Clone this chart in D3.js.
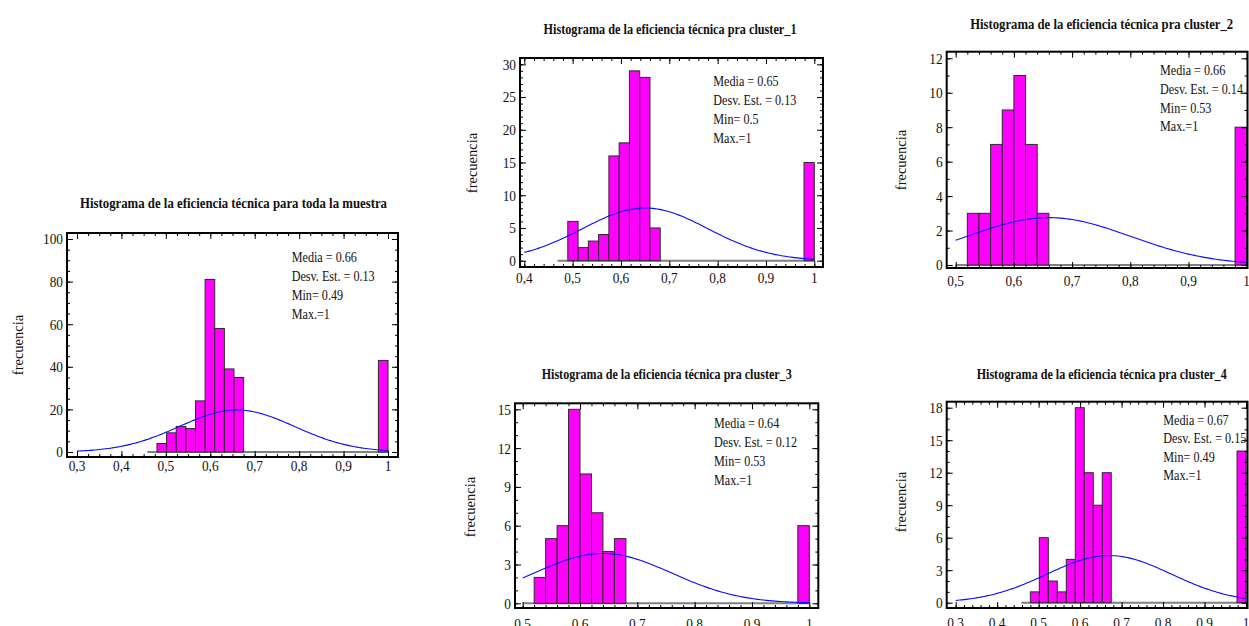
<!DOCTYPE html>
<html>
<head>
<meta charset="utf-8">
<script src="https://cdn.jsdelivr.net/npm/d3@7"></script>
<style>
  body { margin: 0; background: #fff; }
  svg { display: block; }
  text { font-family: "Liberation Serif", "Times New Roman", serif; fill: #111; }
</style>
</head>
<body>
<svg id="chart" width="1249" height="626"></svg>
<script>
// histogramas de eficiencia tecnica - muestra total y 4 clusters

const titles = [
  'Histograma de la eficiencia técnica para toda la muestra',
  'Histograma de la eficiencia técnica pra cluster_1',
  'Histograma de la eficiencia técnica pra cluster_2',
  'Histograma de la eficiencia técnica pra cluster_3',
  'Histograma de la eficiencia técnica pra cluster_4'
];

// frecuencias por clase (24 clases hasta 1)
const countsAll = [4, 9, 12, 11, 24, 81, 58, 39, 35, 0, 0, 0, 0, 0, 0, 0, 0, 0, 0, 0, 0, 0, 0, 43];
const countsC1  = [6, 2, 3, 4, 16, 18, 29, 28, 5, 0, 0, 0, 0, 0, 0, 0, 0, 0, 0, 0, 0, 0, 0, 15];
const countsC2  = [3, 3, 7, 9, 11, 7, 3, 0, 0, 0, 0, 0, 0, 0, 0, 0, 0, 0, 0, 0, 0, 0, 0, 8];
const countsC3  = [2, 5, 6, 15, 10, 7, 4, 5, 0, 0, 0, 0, 0, 0, 0, 0, 0, 0, 0, 0, 0, 0, 0, 6];
const countsC4  = [1, 6, 2, 1, 4, 18, 12, 9, 12, 0, 0, 0, 0, 0, 0, 0, 0, 0, 0, 0, 0, 0, 0, 14];

const binStarts = [0.48, 0.49, 0.52, 0.52, 0.48];
const binWidths = [0.02167, 0.02125, 0.02, 0.02, 0.02167];

const means  = [0.66, 0.65, 0.66, 0.64, 0.67];
const sds    = [0.13, 0.13, 0.14, 0.12, 0.15];
const mins   = [0.49, 0.5, 0.53, 0.53, 0.49];
const maxs   = [1, 1, 1, 1, 1];
const curvePeaks = [19.7, 8.05, 2.75, 3.85, 4.35];

const xTicks = [
  [0.3, 0.4, 0.5, 0.6, 0.7, 0.8, 0.9, 1],
  [0.4, 0.5, 0.6, 0.7, 0.8, 0.9, 1],
  [0.5, 0.6, 0.7, 0.8, 0.9, 1],
  [0.5, 0.6, 0.7, 0.8, 0.9, 1],
  [0.3, 0.4, 0.5, 0.6, 0.7, 0.8, 0.9, 1]
];
const yTicks = [
  [0, 20, 40, 60, 80, 100],
  [0, 5, 10, 15, 20, 25, 30],
  [0, 2, 4, 6, 8, 10, 12],
  [0, 3, 6, 9, 12, 15],
  [0, 3, 6, 9, 12, 15, 18]
];
const xMinorStep = [0.025, 0.02, 0.02, 0.02, 0.02];
const yMinorStep = [5, 1, 1, 1, 1];

const allCounts = [countsAll, countsC1, countsC2, countsC3, countsC4];

// layout de cada panel (marco, anclas de escala, textos)
const layout = [
  {L: 67, T: 233, R: 398, B: 457, xa: 77, xb: 388, ya: 452, yb: 239,
   title: [233.5, 208, 307], stats: [291.7, 262, 19], ylab: [23, 345], xlabY: 471},
  {L: 520, T: 58, R: 823, B: 267, xa: 524.3, xb: 814.3, ya: 260.7, yb: 64.3,
   title: [670, 34, 253], stats: [713.3, 86, 19], ylab: [477, 163], xlabY: 283},
  {L: 946.7, T: 51.7, R: 1247.5, B: 268, xa: 955.7, xb: 1246.7, ya: 265, yb: 58.3,
   title: [1101.7, 29, 263], stats: [1160, 75, 18.8], ylab: [906, 160], xlabY: 286},
  {L: 515, T: 403.3, R: 818.3, B: 608, xa: 522.7, xb: 809.3, ya: 603.3, yb: 409.3,
   title: [666.7, 379, 250], stats: [714, 428, 19], ylab: [475, 507], xlabY: 629},
  {L: 946.7, T: 401.7, R: 1247.5, B: 608, xa: 955.7, xb: 1246, ya: 602.7, yb: 407.7,
   title: [1101.7, 379, 250], stats: [1163.3, 425, 18.4], ylab: [906, 502], xlabY: 628}
];

const svg = d3.select('#chart');
svg.append('rect').attr('width', 1249).attr('height', 626).attr('fill', '#fff');

// comprime el texto horizontalmente, como en el original
function squeeze(sel, f) {
  sel.each(function() {
    const w = this.getComputedTextLength();
    d3.select(this).attr('textLength', w * f).attr('lengthAdjust', 'spacingAndGlyphs');
  });
}

const fmtX = d => d === 1 ? '1' : d.toFixed(1).replace('.', ',');

layout.forEach((p, i) => {
  const g = svg.append('g');
  const xt = xTicks[i], yt = yTicks[i];
  const x = d3.scaleLinear().domain([xt[0], 1]).range([p.xa, p.xb]);
  const y = d3.scaleLinear().domain([0, yt[yt.length - 1]]).range([p.ya, p.yb]);

  // titulo
  g.append('text')
    .attr('x', p.title[0]).attr('y', p.title[1])
    .attr('text-anchor', 'middle')
    .attr('font-weight', 'bold')
    .attr('font-size', '15px')
    .attr('textLength', p.title[2])
    .attr('lengthAdjust', 'spacingAndGlyphs')
    .text(titles[i]);

  // linea base gris (clases vacias)
  g.append('line')
    .attr('x1', x(binStarts[i] - binWidths[i])).attr('x2', x(1))
    .attr('y1', y(0)).attr('y2', y(0))
    .attr('stroke', '#808080').attr('stroke-width', 2);

  // barras
  const bins = allCounts[i].map((c, k) => ({
    x0: binStarts[i] + k * binWidths[i],
    x1: binStarts[i] + (k + 1) * binWidths[i],
    c: c
  })).filter(b => b.c > 0);

  g.selectAll('rect.bar').data(bins).join('rect')
    .attr('class', 'bar')
    .attr('x', b => x(b.x0))
    .attr('width', b => x(b.x1) - x(b.x0))
    .attr('y', b => y(b.c))
    .attr('height', b => y(0) - y(b.c))
    .attr('fill', '#ff00ff')
    .attr('stroke', '#2a2a2a')
    .attr('stroke-width', 1);

  // curva normal ajustada
  const m = means[i], s = sds[i], pk = curvePeaks[i];
  const xs = d3.range(xt[0], 1.0001, 0.005);
  const line = d3.line()
    .x(v => x(v))
    .y(v => y(pk * Math.exp(-0.5 * Math.pow((v - m) / s, 2))));
  g.append('path').datum(xs)
    .attr('d', line)
    .attr('fill', 'none')
    .attr('stroke', '#0a0aff')
    .attr('stroke-width', 1.1);

  // marco
  g.append('rect')
    .attr('x', p.L).attr('y', p.T)
    .attr('width', p.R - p.L).attr('height', p.B - p.T)
    .attr('fill', 'none').attr('stroke', '#000').attr('stroke-width', 2);

  // marcas menores
  const xLo = x.invert(p.L), xHi = x.invert(p.R);
  const yLo = y.invert(p.B), yHi = y.invert(p.T);
  const xm = d3.range(Math.ceil(xLo / xMinorStep[i] - 1e-6) * xMinorStep[i], xHi, xMinorStep[i])
    .filter(v => v > xLo + 0.003 && v < xHi - 0.003);
  const ym = d3.range(Math.ceil(yLo / yMinorStep[i]) * yMinorStep[i], yHi, yMinorStep[i])
    .filter(v => v >= 0);

  function axes(vals, size) {
    const bottom = g.append('g').attr('transform', `translate(0,${p.B})`)
      .call(d3.axisBottom(x).tickValues(vals).tickSize(-size).tickFormat(''));
    const top = g.append('g').attr('transform', `translate(0,${p.T})`)
      .call(d3.axisTop(x).tickValues(vals).tickSize(-size).tickFormat(''));
    [bottom, top].forEach(a => {
      a.select('.domain').remove();
      a.selectAll('line').attr('stroke', '#000');
    });
  }
  function yaxes(vals, size) {
    const left = g.append('g').attr('transform', `translate(${p.L},0)`)
      .call(d3.axisLeft(y).tickValues(vals).tickSize(-size).tickFormat(''));
    const right = g.append('g').attr('transform', `translate(${p.R},0)`)
      .call(d3.axisRight(y).tickValues(vals).tickSize(-size).tickFormat(''));
    [left, right].forEach(a => {
      a.select('.domain').remove();
      a.selectAll('line').attr('stroke', '#000');
    });
  }
  axes(xm, 3);
  axes(xt, 6);
  yaxes(ym, 3);
  yaxes(yt, 6);

  // etiquetas de los ejes
  g.selectAll('text.xl').data(xt).join('text')
    .attr('class', 'xl')
    .attr('x', d => x(d)).attr('y', p.xlabY)
    .attr('text-anchor', 'middle')
    .attr('font-size', '15.5px')
    .text(fmtX)
    .call(squeeze, 0.86);

  g.selectAll('text.yl').data(yt).join('text')
    .attr('class', 'yl')
    .attr('x', p.L - 4).attr('y', d => y(d))
    .attr('dy', '0.35em')
    .attr('text-anchor', 'end')
    .attr('font-size', '15.5px')
    .text(d => d)
    .call(squeeze, 0.86);

  g.append('text')
    .attr('transform', `translate(${p.ylab[0]},${p.ylab[1]}) rotate(-90)`)
    .attr('text-anchor', 'middle')
    .attr('font-size', '14.5px')
    .text('frecuencia');

  // cuadro de estadisticos
  const stats = [
    'Media = ' + means[i],
    'Desv. Est. = ' + sds[i],
    'Min= ' + mins[i],
    'Max.=' + maxs[i]
  ];
  g.selectAll('text.st').data(stats).join('text')
    .attr('class', 'st')
    .attr('x', p.stats[0])
    .attr('y', (d, k) => p.stats[1] + k * p.stats[2])
    .attr('font-size', '15px')
    .text(d => d)
    .call(squeeze, 0.81);
});
</script>
</body>
</html>
